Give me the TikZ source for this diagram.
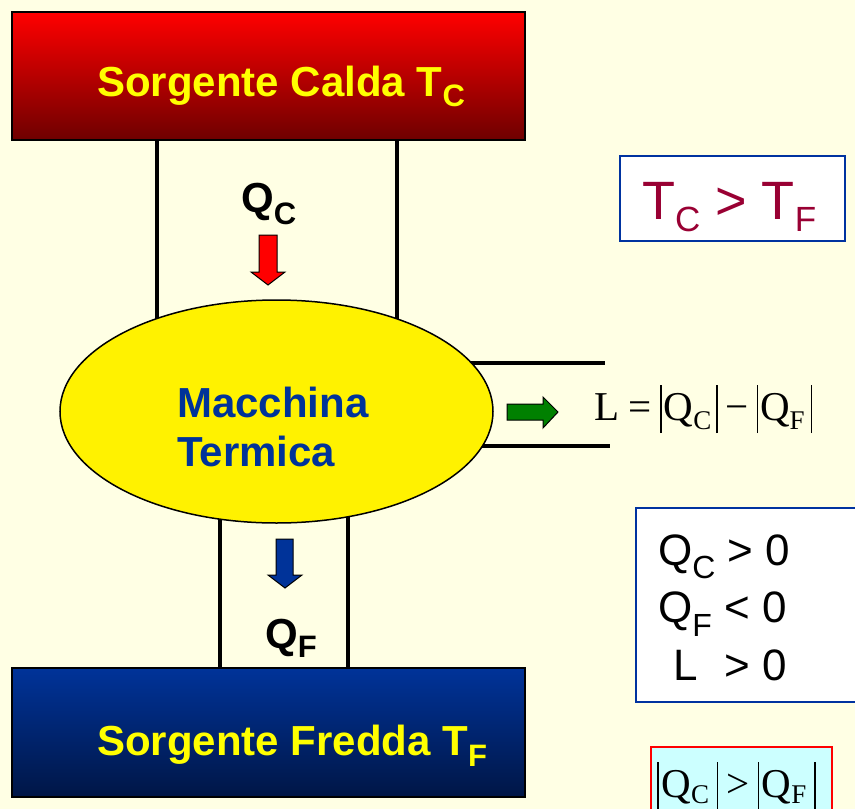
\documentclass[tikz,border=0pt]{standalone}
\usepackage{fontspec}
\setmainfont{Liberation Sans}
\newfontfamily\timesfont{Liberation Serif}
\usetikzlibrary{shapes.geometric}

\definecolor{paper}{RGB}{255,255,228}
\definecolor{hotred}{RGB}{255,0,0}
\definecolor{hotdark}{RGB}{110,0,0}
\definecolor{coldblue}{RGB}{0,51,153}
\definecolor{colddark}{RGB}{0,22,70}
\definecolor{labelyellow}{RGB}{255,255,0}
\definecolor{enginetext}{RGB}{0,51,153}
\definecolor{crimson}{RGB}{153,0,51}
\definecolor{frameblue}{RGB}{0,51,160}
\definecolor{workgreen}{RGB}{0,128,0}
\definecolor{paleaqua}{RGB}{204,255,255}
\definecolor{heatblue}{RGB}{0,51,153}

% lowered subscript: depth, size, text
\newcommand\lowsub[3]{\raisebox{-#1}{\fontsize{#2}{#2}\selectfont #3}}
% tall absolute-value bar
\newcommand\absbar{\rule[-13pt]{1.3pt}{48pt}}

\begin{document}
\begin{tikzpicture}[x=1pt,y=-1pt,
  reservoir/.style={draw=black, line width=1.5pt, minimum width=513pt,
    minimum height=128pt, inner sep=0pt},
  reslabel/.style={text=labelyellow, font=\fontsize{42}{42}\selectfont\bfseries,
    inner sep=0pt, anchor=base west},
  heatlabel/.style={text=black, font=\fontsize{42}{42}\selectfont\bfseries,
    inner sep=0pt, anchor=base west},
  enginelabel/.style={text=enginetext, font=\fontsize{42}{42}\selectfont\bfseries,
    inner sep=0pt, anchor=base west},
  wall/.style={draw=black, line width=4pt},
  blockarrow/.style={draw=black, line width=1pt, line join=miter},
  infobox/.style={draw=frameblue, line width=1.6pt, fill=white, inner sep=0pt},
  infotext/.style={text=black, font=\fontsize{44}{44}\selectfont,
    inner sep=0pt, anchor=base west},
  formula/.style={text=black, font=\timesfont\fontsize{41}{41}\selectfont,
    inner sep=0pt, anchor=base west}
]
\useasboundingbox (0,0) rectangle (855,809);
\fill[paper] (0,0) rectangle (855,809);

% walls of the channels (drawn first, covered by the engine)
\draw[wall] (157,140) -- (157,330);
\draw[wall] (397,140) -- (397,330);
\draw[wall] (220,500) -- (220,668);
\draw[wall] (348,500) -- (348,668);
\draw[wall] (470,363) -- (605,363);
\draw[wall] (470,446) -- (610,446);

% reservoirs
\node[reservoir, top color=hotred, bottom color=hotdark] (hot) at (268.5,76) {};
\node[reservoir, minimum height=129pt, top color=coldblue, bottom color=colddark]
  (cold) at (268.5,732.5) {};
\node[reslabel] (hotlabel) at (97,96) {Sorgente Calda T\lowsub{10pt}{31}{C}};
\node[reslabel] (coldlabel) at (97,755) {Sorgente Fredda T\lowsub{11pt}{31}{F}};

% heat engine
\node[ellipse, draw=black, line width=1.5pt, fill=yellow, inner sep=0pt,
  minimum width=433pt, minimum height=223pt] (engine) at (276.5,411.5) {};
\node[enginelabel] (engine1) at (177,417) {Macchina};
\node[enginelabel] (engine2) at (177,466) {Termica};

% heat flows
\node[heatlabel] (qc) at (241,212) {Q\lowsub{12pt}{31}{C}};
\node[heatlabel] (qf) at (265,648) {Q\lowsub{9pt}{31}{F}};
\filldraw[blockarrow, fill=red]
  (259,235) -- (277,235) -- (277,272) -- (285,272) -- (268,285)
  -- (251,272) -- (259,272) -- cycle;
\filldraw[blockarrow, fill=heatblue]
  (276,539) -- (293,539) -- (293,575) -- (302,575) -- (285,588)
  -- (268,575) -- (276,575) -- cycle;

% work output
\filldraw[blockarrow, fill=workgreen]
  (507,404) -- (543,404) -- (543,397) -- (558,412) -- (543,428)
  -- (543,420) -- (507,420) -- cycle;
\node[formula] (work) at (594,420)
  {L\hspace{9pt}=\hspace{9pt}\absbar\hspace{2pt}Q\lowsub{9pt}{27}{C}\hspace{5pt}\absbar\hspace{8pt}−\hspace{8pt}\absbar\hspace{2pt}Q\lowsub{9pt}{27}{F}\hspace{6pt}\absbar};

% temperature relation
\node[infobox, minimum width=225pt, minimum height=85pt] (tbox) at (732.5,198.5) {};
\node[infotext, text=crimson, font=\fontsize{54}{54}\selectfont] (trel) at (642,219)
  {T\lowsub{12pt}{35}{C} > T\lowsub{12pt}{35}{F}};

% sign conventions
\node[infobox, minimum width=240pt, minimum height=194pt] (signbox) at (756,605) {};
\node[infotext] (sign1) at (658,565) {Q\lowsub{13pt}{32}{C} > 0};
\node[infotext] (sign2) at (658,622) {Q\lowsub{14pt}{32}{F} < 0};
\node[infotext] (sign3) at (673,680) {L\hspace{27pt}> 0};

% magnitude relation
\node[draw=red, line width=1.5pt, fill=paleaqua, inner sep=0pt,
  minimum width=181pt, minimum height=90pt] (magbox) at (741.5,792) {};
\node[formula] (magrel) at (657,797)
  {\absbar\hspace{3pt}Q\lowsub{6pt}{27}{C}\hspace{8pt}\absbar\hspace{8pt}>\hspace{8pt}\absbar\hspace{3pt}Q\lowsub{6pt}{27}{F}\hspace{8pt}\absbar};
\end{tikzpicture}
\end{document}
